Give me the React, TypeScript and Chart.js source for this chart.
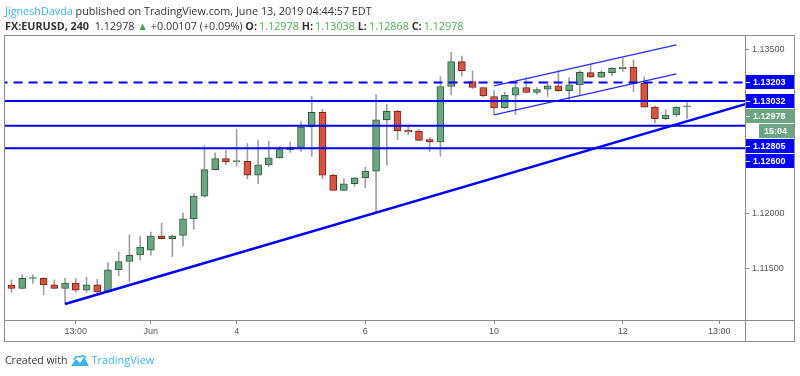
import React, { useEffect, useRef } from "react";
import { Chart, registerables } from "chart.js";

Chart.register(...registerables);

// ---- data: EURUSD 4h candles (index 0 = May 30 09:00 ... 63 = Jun 13 01:00)
const opens = [
  1.11345, 1.11315, 1.11406, 1.11407, 1.11348, 1.11315, 1.11364, 1.113, 1.11348, 1.11284,
  1.11485, 1.11562, 1.11622, 1.11665, 1.11795, 1.11772, 1.11802, 1.11954, 1.12161, 1.12404,
  1.12505, 1.12475, 1.1248, 1.12352, 1.12447, 1.12511, 1.12584, 1.12608, 1.12794, 1.12928,
  1.12352, 1.12213, 1.12274, 1.12329, 1.12389, 1.12861, 1.12937, 1.12763, 1.12754, 1.12678,
  1.12657, 1.13165, 1.13393, 1.13211, 1.13156, 1.13074, 1.12968, 1.13086, 1.13156, 1.1311,
  1.13141, 1.13171, 1.13126, 1.1318, 1.13293, 1.13251, 1.13293, 1.13329, 1.13342, 1.13196,
  1.12977, 1.1287, 1.12904, 1.12978,
];
const highs = [
  1.11394, 1.11439, 1.11437, 1.1141, 1.11394, 1.11407, 1.11407, 1.11416, 1.114, 1.11553,
  1.11649, 1.11805, 1.1179, 1.11832, 1.11911, 1.11808, 1.12009, 1.12185, 1.12624, 1.12557,
  1.12578, 1.12776, 1.12642, 1.12672, 1.12663, 1.12617, 1.12657, 1.12845, 1.13074, 1.12959,
  1.12365, 1.12322, 1.12332, 1.12427, 1.13089, 1.13002, 1.12948, 1.12794, 1.1277, 1.12699,
  1.13256, 1.13479, 1.13445, 1.13308, 1.1316, 1.13128, 1.13114, 1.13205, 1.13247, 1.13156,
  1.13211, 1.13311, 1.13247, 1.13311, 1.13372, 1.13311, 1.13338, 1.13424, 1.13409, 1.13256,
  1.12989, 1.12952, 1.1298, 1.13038,
];
const lows = [
  1.11279, 1.1131, 1.11361, 1.11257, 1.11312, 1.11172, 1.11279, 1.11279, 1.1127, 1.11279,
  1.1143, 1.11375, 1.11576, 1.11619, 1.1177, 1.11607, 1.11704, 1.11857, 1.1215, 1.124,
  1.1245, 1.12441, 1.1232, 1.12274, 1.12429, 1.12508, 1.12562, 1.12571, 1.12526, 1.1232,
  1.1221, 1.1221, 1.12252, 1.12236, 1.12009, 1.12446, 1.12678, 1.12724, 1.12669, 1.12571,
  1.12526, 1.13089, 1.13263, 1.13147, 1.13068, 1.12907, 1.12965, 1.12907, 1.13105, 1.13096,
  1.13074, 1.13119, 1.13028, 1.13089, 1.13248, 1.13248, 1.13265, 1.13302, 1.13119, 1.12975,
  1.12831, 1.12861, 1.12886, 1.12868,
];
const closes = [
  1.11315, 1.11407, 1.11408, 1.11348, 1.11315, 1.11364, 1.113, 1.11348, 1.11284, 1.11485,
  1.11562, 1.11619, 1.11695, 1.11795, 1.11772, 1.11795, 1.11954, 1.12162, 1.12404, 1.12505,
  1.12475, 1.12487, 1.12352, 1.12447, 1.12511, 1.12587, 1.12608, 1.12794, 1.12928, 1.12352,
  1.12213, 1.12274, 1.12329, 1.12391, 1.12861, 1.12937, 1.1276, 1.12751, 1.12672, 1.12657,
  1.13165, 1.13393, 1.13311, 1.13156, 1.1308, 1.12968, 1.13086, 1.13156, 1.1311, 1.13138,
  1.13171, 1.13126, 1.1318, 1.13295, 1.13251, 1.13296, 1.13333, 1.13342, 1.13196, 1.12977,
  1.1287, 1.12904, 1.12977, 1.12978,
];

const timeTickIndex = [6, 13, 21, 33, 45, 57, 66];
const timeTickLabels = ["13:00", "Jun", "4", "6", "10", "12", "13:00"];
const priceTicks = [1.115, 1.12, 1.135];

const solidLevels = [1.13032, 1.12805, 1.126];
const dashedLevels = [1.13203];
const trendIdx = [5, 70];
const trendPrice = [1.11172, 1.13049];
const channelIdx = [45, 62];
const channelUpper = [1.13171, 1.13546];
const channelLower = [1.12906, 1.13281];
const lastPrice = 1.12978;
const countdown = "15:04";

const xMin = -0.6;
const xMax = 68.4;
const yMin = 1.11026;
const yMax = 1.13628;

const UP = "#6ba583";
const UP_BORDER = "#2d5d3e";
const DOWN = "#d75442";
const DOWN_BORDER = "#7a2317";
const FLAT = "#737375";
const WICK = "#a0a0a0";
const LEVEL_BLUE = "#0000ff";
const LABEL_GREEN = "#6ba583";
const FRAME = "#8c8c8c";
const AXIS_FONT = "Liberation Sans";

const framePlugin = {
  id: "tvFrame",
  afterDraw(chart: any) {
    const { ctx, chartArea: a } = chart;
    const yS = chart.scales.y;
    const xS = chart.scales.x;
    const right = yS.right;
    const bottom = xS.bottom;
    ctx.save();
    ctx.strokeStyle = FRAME;
    ctx.lineWidth = 1;
    ctx.strokeRect(a.left - 0.5, a.top - 0.5, right - a.left, bottom - a.top);
    ctx.beginPath();
    ctx.moveTo(a.right + 0.5, a.top);
    ctx.lineTo(a.right + 0.5, bottom);
    ctx.moveTo(a.left, a.bottom + 0.5);
    ctx.lineTo(right, a.bottom + 0.5);
    ctx.stroke();

    // price-axis labels with TradingView-like stacking
    type Item = { y: number; text: string; bg: string; countdown?: boolean };
    const items: Item[] = [];
    [...dashedLevels, ...solidLevels].forEach((v) =>
      items.push({ y: yS.getPixelForValue(v), text: v.toFixed(5), bg: LEVEL_BLUE })
    );
    items.push({ y: yS.getPixelForValue(lastPrice), text: lastPrice.toFixed(5), bg: LABEL_GREEN });
    items.sort((p, q) => p.y - q.y);
    const withCd: Item[] = [];
    items.forEach((it) => {
      withCd.push(it);
      if (it.bg === LABEL_GREEN) withCd.push({ y: it.y, text: countdown, bg: LABEL_GREEN, countdown: true });
    });
    const step = 15;
    let prev = -Infinity;
    ctx.font = `bold 9px ${AXIS_FONT}`;
    ctx.textBaseline = "middle";
    ctx.textAlign = "left";
    withCd.forEach((it) => {
      const cy = Math.max(it.y, prev + step);
      prev = cy;
      const x0 = it.countdown ? a.right + 14 : a.right + 1;
      ctx.fillStyle = it.bg;
      ctx.fillRect(x0, Math.round(cy) - 7, right - 1 - x0, 14);
      ctx.fillStyle = "#ffffff";
      if (!it.countdown) ctx.fillRect(a.right + 1, Math.round(cy), 4, 1);
      ctx.fillText(it.text, it.countdown ? a.right + 19 : a.right + 8, Math.round(cy) + 0.5);
    });
    ctx.restore();
  },
};

export default function App() {
  const ref = useRef<HTMLCanvasElement>(null);

  useEffect(() => {
    const idx = opens.map((_, i) => i);
    const dir = idx.map((i) => Math.sign(closes[i] - opens[i]));
    const fill = dir.map((d) => (d > 0 ? UP : d < 0 ? DOWN : FLAT));
    const border = dir.map((d) => (d > 0 ? UP_BORDER : d < 0 ? DOWN_BORDER : FLAT));

    const levelLine = (v: number, dash: number[]) => ({
      type: "line" as const,
      data: [
        { x: xMin - 2, y: v },
        { x: xMax + 2, y: v },
      ],
      borderColor: LEVEL_BLUE,
      borderWidth: 2,
      borderDash: dash,
      pointRadius: 0,
      order: 0,
    });

    const chart = new Chart(ref.current as HTMLCanvasElement, {
      type: "bar",
      data: {
        datasets: [
          ...solidLevels.map((v) => levelLine(v, [])),
          ...dashedLevels.map((v) => levelLine(v, [9, 6])),
          {
            type: "line",
            data: trendIdx.map((x, k) => ({ x, y: trendPrice[k] })),
            borderColor: LEVEL_BLUE,
            borderWidth: 2.5,
            pointRadius: 0,
            order: 0,
          },
          {
            type: "line",
            data: channelIdx.map((x, k) => ({ x, y: channelUpper[k] })),
            borderColor: "#2a2aff",
            borderWidth: 1.2,
            pointRadius: 0,
            order: 0,
          },
          {
            type: "line",
            data: channelIdx.map((x, k) => ({ x, y: channelLower[k] })),
            borderColor: "#2a2aff",
            borderWidth: 1.2,
            pointRadius: 0,
            order: 0,
          },
          {
            type: "bar",
            data: idx.map((i) => ({ x: i, y: [opens[i], closes[i]] })),
            backgroundColor: fill,
            borderColor: border,
            borderWidth: 1,
            borderSkipped: false,
            barThickness: 7,
            minBarLength: 1,
            grouped: false,
            order: 1,
          },
          {
            type: "bar",
            data: idx.map((i) => ({ x: i, y: [lows[i], highs[i]] })),
            backgroundColor: WICK,
            borderWidth: 0,
            barThickness: 1,
            grouped: false,
            order: 2,
          },
        ] as any,
      },
      options: {
        responsive: false,
        animation: false,
        devicePixelRatio: 1,
        events: [],
        layout: { padding: { left: 5, right: 5, top: 36, bottom: 34 } },
        plugins: { legend: { display: false }, tooltip: { enabled: false } },
        scales: {
          x: {
            type: "linear",
            min: xMin,
            max: xMax,
            bounds: "data",
            offset: false,
            grid: {
              display: true,
              drawOnChartArea: false,
              drawTicks: true,
              tickLength: 4,
              color: FRAME,
              offset: false,
            },
            border: { display: false },
            afterBuildTicks: (s: any) => {
              s.ticks = timeTickIndex.map((v) => ({ value: v }));
            },
            afterFit: (s: any) => {
              s.height = 22;
            },
            ticks: {
              autoSkip: false,
              maxRotation: 0,
              padding: 2,
              color: "#555555",
              font: { family: AXIS_FONT, size: 9 },
              callback: (v: any) => {
                const k = timeTickIndex.indexOf(Number(v));
                return k >= 0 ? timeTickLabels[k] : "";
              },
            },
          },
          y: {
            type: "linear",
            position: "right",
            min: yMin,
            max: yMax,
            bounds: "data",
            grid: {
              display: true,
              drawOnChartArea: false,
              drawTicks: true,
              tickLength: 4,
              color: FRAME,
            },
            border: { display: false },
            afterBuildTicks: (s: any) => {
              s.ticks = priceTicks.map((v) => ({ value: v }));
            },
            afterFit: (s: any) => {
              s.width = 50;
            },
            ticks: {
              padding: 3,
              color: "#555555",
              font: { family: AXIS_FONT, size: 9 },
              callback: (v: any) => Number(v).toFixed(5),
            },
          },
        } as any,
      },
      plugins: [framePlugin],
    });
    return () => chart.destroy();
  }, []);

  const green = "#4caf50";
  const dark = "#333333";
  const headFont = "'Open Sans', 'Liberation Sans', sans-serif";
  const val = { color: green, marginLeft: 2 };

  return (
    <div
      style={{
        position: "fixed",
        left: 0,
        top: 0,
        width: 800,
        height: 376,
        background: "#ffffff",
        overflow: "hidden",
      }}
    >
      <canvas ref={ref} width={800} height={376} style={{ position: "absolute", left: 0, top: 0 }} />
      <div
        style={{
          position: "absolute",
          left: 5,
          top: 3,
          fontFamily: headFont,
          fontSize: 10.8,
          lineHeight: "15px",
          color: dark,
          whiteSpace: "nowrap",
        }}
      >
        <div>
          <span style={{ color: "#3bb3e4" }}>JigneshDavda</span> published on TradingView.com, June 13, 2019 04:44:57 EDT
        </div>
        <div>
          <b>FX:EURUSD, 240</b>&nbsp; 1.12978 <span style={{ color: "#3ca548" }}>▲</span> +0.00107 (+0.09%){" "}
          <b>O:</b>
          <span style={val}>1.12978</span> <b>H:</b>
          <span style={val}>1.13038</span> <b>L:</b>
          <span style={val}>1.12868</span> <b>C:</b>
          <span style={val}>1.12978</span>
        </div>
      </div>
      <div
        style={{
          position: "absolute",
          left: 5,
          top: 352,
          fontFamily: headFont,
          fontSize: 10.5,
          lineHeight: "16px",
          color: dark,
          whiteSpace: "nowrap",
          display: "flex",
          alignItems: "center",
        }}
      >
        <span>Created with</span>
        <svg width="20" height="13" viewBox="0 0 20 13" style={{ margin: "0 1px 0 3px" }}>
          <path d="M1 12 L6 5 L10 9 L14 3 L19 12 Z" fill="#3bb3e4" />
          <path d="M4 6 Q6 1 10 3 Q13 0 16 4" stroke="#3bb3e4" strokeWidth="1.5" fill="none" />
        </svg>
        <span style={{ color: "#3bb3e4", fontSize: 11 }}>TradingView</span>
      </div>
    </div>
  );
}
